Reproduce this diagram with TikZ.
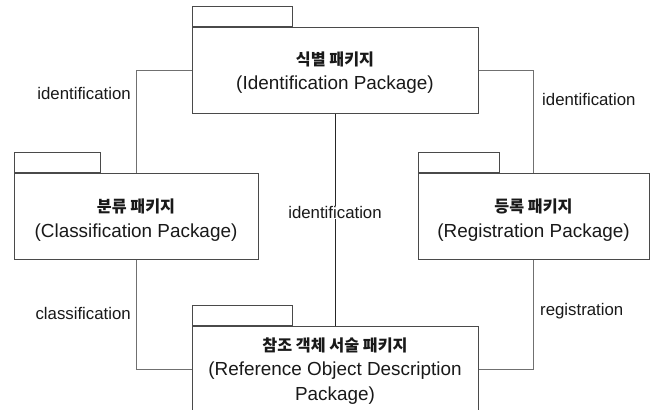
\documentclass[tikz,border=0pt]{standalone}
\usepackage{fontspec}
\setmainfont{Liberation Sans}
\newfontfamily\kr{Noto Sans CJK KR}
\begin{document}
\begin{tikzpicture}[x=1pt,y=-1pt,
  pkg/.style={draw=boxgray,line width=1pt,fill=white,inner sep=0pt,minimum height=86pt},
  tab/.style={draw=boxgray,line width=1pt,fill=white,inner sep=0pt,minimum height=20pt,anchor=south west},
  pkgtext/.style={align=center,text=black!90,font=\fontsize{18.9}{24.5}\selectfont,inner sep=0pt},
  link/.style={draw=linkgray,line width=1pt},
  lbl/.style={text=black!90,font=\fontsize{16.8}{20}\selectfont,inner sep=0pt}]
\definecolor{boxgray}{HTML}{4A4A4A}
\definecolor{linkgray}{HTML}{707070}
\newcommand{\krtitle}[1]{{\kr\bfseries\fontsize{16.2}{24.5}\selectfont #1}}
\clip (0,0) rectangle (657,410);
\fill[white] (0,0) rectangle (657,410);

% package tabs (drawn first so the bodies overlap their lower edge)
\node[tab,minimum width=100pt] (toptab) at (192,27) {};
\node[tab,minimum width=86pt]  (lefttab) at (14,173) {};
\node[tab,minimum width=81pt]  (righttab) at (418,173) {};
\node[tab,minimum width=100pt] (bottab) at (192,326) {};

% package bodies
\node[pkg,minimum width=286pt] (ident) at (335,70) {};
\node[pkg,minimum width=244pt] (class) at (136,216) {};
\node[pkg,minimum width=231pt] (regist) at (533.5,216) {};
\node[pkg,minimum width=286pt] (refobj) at (335,369) {};

% package titles
\node[pkgtext] (identtxt) at (335,72.5) {\krtitle{식별 패키지}\\(Identification Package)};
\node[pkgtext] (classtxt) at (136,220) {\krtitle{분류 패키지}\\(Classification Package)};
\node[pkgtext] (registtxt) at (533.5,220) {\krtitle{등록 패키지}\\(Registration Package)};
\node[pkgtext,anchor=north] (refobjtxt) at (335,337.5) {\krtitle{참조 객체 서술 패키지}\\(Reference Object Description\\Package)};

% dependencies
\path[link] (ident.west) -| (class.north);
\path[link] (ident.east) -| (regist.north);
\path[link] (class.south) |- (refobj.west);
\path[link] (regist.south) |- (refobj.east);
\path[draw=black!85,line width=0.8pt] (ident.south) -- (refobj.north)
  node[midway,fill=white,inner sep=3pt,lbl,yshift=7pt] (midlbl) {identification};

% dependency labels
\node[lbl,anchor=east] (identl) at (131,93) {identification};
\node[lbl,anchor=west] (identr) at (542,99) {identification};
\node[lbl,anchor=east] (classl) at (131,313) {classification};
\node[lbl,anchor=west] (registl) at (540,311) {registration};
\end{tikzpicture}
\end{document}
